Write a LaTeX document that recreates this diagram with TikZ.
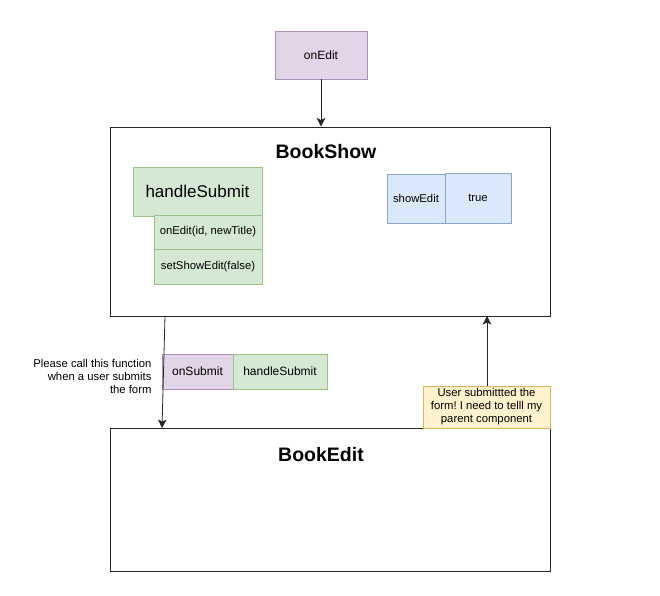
\documentclass[tikz,border=0pt]{standalone}
\usepackage{fontspec}
\setmainfont{Liberation Sans}
\usetikzlibrary{arrows.meta}
\definecolor{pfill}{HTML}{E1D5E7}\definecolor{pline}{HTML}{9673A6}
\definecolor{gfill}{HTML}{D5E8D4}\definecolor{gline}{HTML}{82B366}
\definecolor{bfill}{HTML}{DAE8FC}\definecolor{bline}{HTML}{6C8EBF}
\definecolor{yfill}{HTML}{FFF2CC}\definecolor{yline}{HTML}{D6B656}
\frenchspacing
\begin{document}
\begin{tikzpicture}[x=1pt,y=-1pt,
  box/.style={draw, rectangle, inner sep=0pt, line width=0.8pt},
  purp/.style={box, fill=pfill, draw=pline!80},
  grn/.style={box, fill=gfill, draw=gline!80},
  blu/.style={box, fill=bfill, draw=bline!80},
  yel/.style={box, fill=yfill, draw=yline},
  cont/.style={box, draw=black!85, line width=1pt},
  ttl/.style={font=\fontsize{19.5}{22}\selectfont\bfseries},
  txt/.style={font=\fontsize{12}{14}\selectfont},
  sml/.style={font=\fontsize{11.3}{13}\selectfont},
  arr/.style={draw=black!85, line width=0.8pt, -{Stealth[length=8.5pt,width=8.5pt,inset=2pt]}}]
\useasboundingbox (0,0) rectangle (660,595);
\fill[white] (0,0) rectangle (660,595);
\node[purp, minimum width=92pt, minimum height=48pt, txt] (onEdit) at (321,55) {onEdit};
\node[cont, minimum width=440pt, minimum height=189pt] (bs) at (330,221.5) {};
\node[ttl] (bsT) at (326,152) {BookShow};
\node[grn, minimum width=129pt, minimum height=49pt, font=\fontsize{17}{19}\selectfont] (hs) at (197.5,191.5) {handleSubmit};
\node[grn, minimum width=108pt, minimum height=34pt, sml] (oe) at (208,232) {onEdit(id, newTitle)};
\node[grn, minimum width=108pt, minimum height=35pt, sml] (sse) at (208,266.5) {setShowEdit(false)};
\node[blu, minimum width=58pt, minimum height=49pt, sml] (se) at (416,198.5) {showEdit};
\node[blu, minimum width=66pt, minimum height=50pt, sml] (tr) at (478,198) {true};
\node[purp, minimum width=71pt, minimum height=35pt, txt] (os) at (197.5,371.5) {onSubmit};
\node[grn, minimum width=94pt, minimum height=35pt, txt] (hs2) at (280,371.5) {handleSubmit};
\node[cont, minimum width=440pt, minimum height=143pt] (be) at (330,499.5) {};
\node[ttl] (beT) at (321,455) {BookEdit};
\node[yel, minimum width=127pt, minimum height=42pt, sml, align=center] (note) at (486.5,407) {User submittted the\\form! I need to telll my\\parent component};
\node[sml, align=right, anchor=east] (please) at (155,376) {Please call this function\\when a user submits\\the form};
\coordinate (a1) at (165,316);
\coordinate (a2) at (162,428);
\coordinate (a3) at (487,316);
\draw[arr] (onEdit.south) -- (onEdit.south |- bs.north);
\draw[arr] (a1) -- (a2);
\draw[arr] (note.north -| a3) -- (a3);
\end{tikzpicture}
\end{document}
